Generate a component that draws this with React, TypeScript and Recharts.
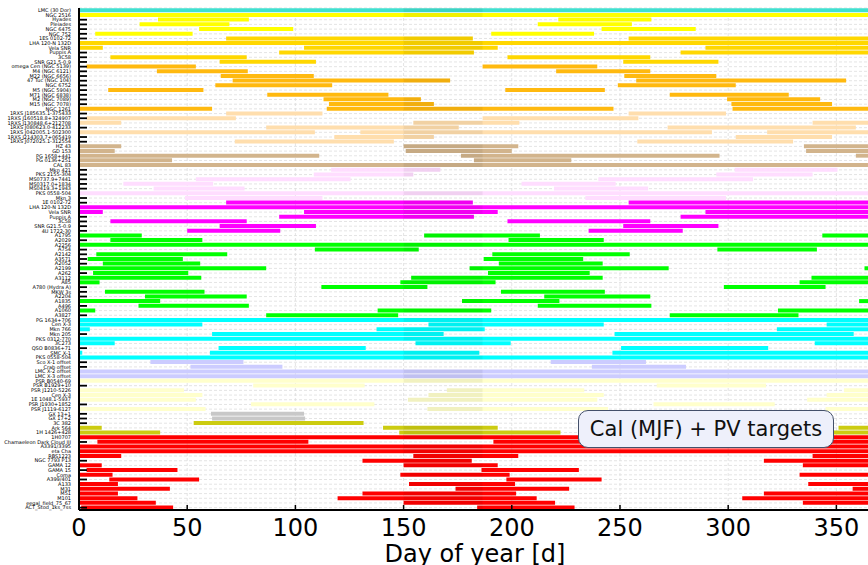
import {
  BarChart,
  Bar,
  XAxis,
  YAxis,
  CartesianGrid,
  Cell,
  Legend,
} from 'recharts';

type Win = [number, number];

const FONT = 'DejaVu Sans';

// visibility windows [start day, end day] per target, grouped by colour
const lmcNames = ['LMC (30 Dor)'];
const lmcWindows: Win[][] = [[[0, 366]]];

const openClusterNames = ['NGC 2516', 'Hyades', 'Pleiades', 'NGC 6475', 'NGC 752'];
const openClusterWindows: Win[][] = [
  [[0, 366]],
  [[36.5, 78.5], [221.5, 264.5]],
  [[28, 69.5], [212, 255.5]],
  [[55.5, 99], [241.5, 285]],
  [[7.5, 52.5], [190.5, 238]],
];

const snrNames = ['1ES 0102-72', 'LHA 120-N 132D', 'Vela SNR', 'Puppis A', '3C58', 'SNR G21.5-0.9'];
const snrWindows: Win[][] = [
  [[68, 182], [254, 366]],
  [[0, 366]],
  [[0, 11], [104, 193.5], [289.5, 366]],
  [[92.5, 182.5], [278, 366]],
  [[14.5, 77.5], [198, 264]],
  [[65, 109.5], [251.5, 295.5]],
];

const globularNames = [
  'omega Cen (NGC 5139)', 'M4 (NGC 6121)', 'M22 (NGC 6656)', '47 Tuc (NGC 104)', 'NGC 6752',
  'M5 (NGC 5904)', 'M71 (NGC 6838)', 'M2 (NGC 7089)', 'M15 (NGC 7078)', 'NGC 1261',
];
const globularWindows: Win[][] = [
  [[3.5, 54], [186.5, 239.5]],
  [[36, 78], [220.5, 264]],
  [[65.5, 108.5], [252, 294.5]],
  [[71, 171.5], [257.5, 354.5]],
  [[63, 117], [249, 303.5]],
  [[13.5, 57.5], [197, 243]],
  [[87, 143], [273, 328]],
  [[113, 158], [299.5, 342.5]],
  [[115.5, 164], [301.5, 348]],
  [[0, 61.5], [114.5, 247], [302, 366]],
];

const insNames = [
  '1RXS J185635.1-375433', '1RXS J160518.8+324907', '1RXS J130848.6+212708',
  '1RXS J080623.0-412233', '1RXS J042005.1-502300', '1RXS J214303.7+065419',
  '1RXS J072025.1-312554',
];
const insWindows: Win[][] = [
  [[68, 112.5], [254, 299]],
  [[3.5, 72.5], [186.5, 258.5]],
  [[0, 19.5], [154.5, 203.5], [339, 366]],
  [[86.5, 175.5], [272, 359]],
  [[0, 109], [130, 292.5], [318, 366]],
  [[118, 164], [303.5, 348]],
  [[72, 145.5], [258, 330]],
];

const wdNames = ['HZ 43', 'GD 153', 'PG 1658+441', 'PG 0136+251', 'CAL 83'];
const wdWindows: Win[][] = [
  [[0, 19.5], [150, 203], [335, 366]],
  [[0, 16.5], [151, 200], [336, 366]],
  [[0, 111], [176.5, 296], [359, 366]],
  [[0, 43], [182.5, 227.5]],
  [[0, 366]],
];

const agnNames = ['Mkn 421', 'PKS 2155-304', 'MS0737.9+7441', 'MS0317.0+1834', 'MS0419.3+1943', 'PKS 0558-504', 'Mkn 3'];
const agnWindows: Win[][] = [
  [[116.5, 167], [303, 350.5]],
  [[108.5, 154.5], [294.5, 339]],
  [[54, 125.5], [240, 311.5]],
  [[20.5, 62], [204.5, 248]],
  [[34.5, 76.5], [219.5, 263]],
  [[0, 366]],
  [[49, 112.5], [234, 299]],
];

const snr2Names = ['1E 0102-72', 'LHA 120-N 132D', 'Vela SNR', 'Puppis A', '3C58', 'SNR G21.5-0.9', '4U 1722-30'];
const snr2Windows: Win[][] = [
  [[68, 182], [254, 366]],
  [[0, 366]],
  [[0, 11], [104, 193.5], [289.5, 366]],
  [[92.5, 182.5], [278, 366]],
  [[14.5, 77.5], [198, 264]],
  [[65, 109.5], [251.5, 295.5]],
  [[50, 93], [235.5, 279]],
];

const clusterNames = [
  'A1795', 'A2029', 'A2256', 'A754', 'A2142', 'A3571', 'A2052', 'A2199', 'A262', 'A3112',
  'A85', 'A780 (Hydra A)', 'MKW 3s', 'A2204', 'A1835', 'A496', 'A1060', 'A3827',
];
const clusterWindows: Win[][] = [
  [[0, 29], [159.5, 213], [343.5, 366]],
  [[14.5, 57], [198.5, 242.5]],
  [[0, 366]],
  [[109, 157], [295, 341]],
  [[8, 68.5], [191, 254.5]],
  [[4, 48], [187, 233]],
  [[11, 56], [194, 242]],
  [[0, 86.5], [180.5, 272.5], [363, 366]],
  [[6.5, 50.5], [189, 236]],
  [[0, 56.5], [153.5, 242], [338.5, 366]],
  [[0, 9.5], [148.5, 192.5], [333, 366]],
  [[112, 161], [298, 345]],
  [[12, 58], [195, 243]],
  [[30.5, 77.5], [215, 264]],
  [[0, 37.5], [177, 222], [360.5, 366]],
  [[27.5, 78.5], [212, 264.5]],
  [[0, 7.5], [138, 190.5], [323, 366]],
  [[86.5, 147.5], [273, 332.5]],
];

const pvNames = [
  'PG 1634+706', 'Cen X-3', 'Mkn 766', 'Mkn 205', 'PKS 0312-770', '3C273', 'QSO B0836+71',
  'SMC X-1', 'PKS 0558-504',
];
const pvWindows: Win[][] = [
  [[0, 366]],
  [[0, 57], [161.5, 242.5], [345.5, 366]],
  [[0, 5], [137.5, 187.5], [322.5, 366]],
  [[61.5, 168.5], [247.5, 358]],
  [[0, 366]],
  [[0, 16.5], [155.5, 199.5], [340, 366]],
  [[64.5, 132.5], [250.5, 318.5]],
  [[0, 1.5], [60.5, 185], [246.5, 366]],
  [[0, 366]],
];

const offsetNames = ['Sco X-1 offset', 'Crab offset', 'LMC X-2 offset', 'LMC X-3 offset'];
const offsetWindows: Win[][] = [
  [[33, 76], [218, 262]],
  [[51.5, 94], [237, 280.5]],
  [[0, 366]],
  [[0, 366]],
];

const psrNames = [
  'PSR B0540-69', 'PSR B1929+10', 'PSR J1210-5226', 'Cen X-3', '1E 1048.1-5937',
  'PSR J1930+1852', 'PSR J1119-6127',
];
const psrWindows: Win[][] = [
  [[0, 366]],
  [[80.5, 132], [267, 317.5]],
  [[0, 48.5], [170, 233.5], [353.5, 366]],
  [[0, 57], [161.5, 242.5], [345.5, 366]],
  [[0, 54], [152, 239.5], [336.5, 366]],
  [[79.5, 136.5], [265.5, 321.5]],
  [[0, 58.5], [161, 244.5], [345, 366]],
];

const gxNames = ['GX 13+1', 'GX 17+2'];
const gxWindows: Win[][] = [[[61, 104]], [[61.5, 104.5]]];

const seyfertNames = ['3C 382', 'Ark 564', '1H 1426+428'];
const seyfertWindows: Win[][] = [
  [[53, 131.5]],
  [[0, 10.5], [140.5, 193.5], [351, 366]],
  [[0, 37.5], [148, 222.5], [345, 366]],
];

const redNames = [
  '1H0707', 'Chamaeleon Dark Cloud III', 'A3391/3395', 'eta Cha', 'RBS1223', 'NGC 7793 P13',
  'GAMA 12', 'GAMA 15', 'Coma', 'A399/401', 'A133', 'M31', 'M51', 'M101',
  'eegal_field_75_67', 'ACT_Stod_1ks_7ss',
];
const redWindows: Win[][] = [
  [[0, 366]],
  [[8.5, 106], [191.5, 366]],
  [[0, 366]],
  [[0, 366]],
  [[0, 19.5], [154.5, 203], [339, 366]],
  [[131, 181.5], [316.5, 366]],
  [[0, 10.5], [150, 193.5], [334.5, 366]],
  [[3.5, 45.5], [186, 231]],
  [[0, 15.5], [148.5, 199], [333, 366]],
  [[14, 55.5], [197.5, 241.5]],
  [[0, 18], [152.5, 201.5], [337, 366]],
  [[0, 42], [174, 226.5], [357.5, 366]],
  [[0, 18], [131, 202], [316.5, 366]],
  [[0, 27], [119.5, 211.5], [306.5, 366]],
  [[0, 35.5], [150, 220], [334.5, 366]],
  [[1, 43.5], [184, 229]],
];

// days covered twice (overlapping schedule halves), drawn darker on the bars
const overlapSpan: Win = [150, 186.5];

const dayTicks = [0, 50, 100, 150, 200, 250, 300, 350];

const groups: {names: string[]; windows: Win[][]; color: string}[] = [
  {names: lmcNames, windows: lmcWindows, color: '#40e0d0'},
  {names: openClusterNames, windows: openClusterWindows, color: '#ffff00'},
  {names: snrNames, windows: snrWindows, color: '#ffd700'},
  {names: globularNames, windows: globularWindows, color: '#ffb90f'},
  {names: insNames, windows: insWindows, color: '#ffdead'},
  {names: wdNames, windows: wdWindows, color: '#d2b48c'},
  {names: agnNames, windows: agnWindows, color: '#ffddff'},
  {names: snr2Names, windows: snr2Windows, color: '#ff00ff'},
  {names: clusterNames, windows: clusterWindows, color: '#00ff00'},
  {names: pvNames, windows: pvWindows, color: '#00ffff'},
  {names: offsetNames, windows: offsetWindows, color: '#ccccff'},
  {names: psrNames, windows: psrWindows, color: '#ffffcc'},
  {names: gxNames, windows: gxWindows, color: '#c8c8c8'},
  {names: seyfertNames, windows: seyfertWindows, color: '#cccc11'},
  {names: redNames, windows: redWindows, color: '#ff0000'},
];

const clipToOverlap = (wins: Win[]): Win | null => {
  for (const [a, b] of wins) {
    const lo = Math.max(a, overlapSpan[0]);
    const hi = Math.min(b, overlapSpan[1]);
    if (hi > lo) return [lo, hi];
  }
  return null;
};

const rows = groups
  .flatMap((g) =>
    g.names.map((name, i) => ({
      name,
      color: g.color,
      startsAtZero: g.windows[i][0][0] === 0,
      w0: g.windows[i][0] ?? null,
      w1: g.windows[i][1] ?? null,
      w2: g.windows[i][2] ?? null,
      dup: clipToOverlap(g.windows[i]),
    })),
  )
  .map((r, k) => ({...r, id: `r${k}`}));

const rowById: Record<string, (typeof rows)[number]> = {};
rows.forEach((r) => {
  rowById[r.id] = r;
});

const PLOT_LEFT = 79;
const PLOT_BOTTOM = 510;

function RowTick(props: any) {
  const {x, y, payload} = props;
  const row = rowById[payload.value];
  return (
    <g>
      {/* inward tick, hidden under bars that start on day 0 */}
      {!row.startsAtZero && (
        <line x1={PLOT_LEFT} x2={PLOT_LEFT + 8} y1={y} y2={y} stroke="#000" strokeWidth={1.8} />
      )}
      <text x={x} y={y} dy="0.35em" textAnchor="end" fontSize={5} fontFamily={FONT} fill="#000">
        {row.name}
      </text>
    </g>
  );
}

function DayTick(props: any) {
  const {x, payload} = props;
  return (
    <g>
      <line x1={x} x2={x} y1={PLOT_BOTTOM} y2={PLOT_BOTTOM - 5} stroke="#000" strokeWidth={1.5} />
      <text x={x} y={536} textAnchor="middle" fontSize={24} fontFamily={FONT} fill="#000">
        {payload.value}
      </text>
    </g>
  );
}

function CalLegend() {
  return (
    <div
      style={{
        boxSizing: 'border-box',
        width: 256,
        height: 38,
        border: '1.5px solid #44506a',
        borderRadius: 10,
        background: '#eef0fb',
        fontFamily: FONT,
        fontSize: 21,
        color: '#111',
        display: 'flex',
        alignItems: 'center',
        justifyContent: 'center',
        whiteSpace: 'nowrap',
      }}
    >
      Cal (MJF) + PV targets
    </div>
  );
}

export default function App() {
  const windowKeys = ['w0', 'w1', 'w2'];
  return (
    <div
      style={{
        position: 'absolute',
        left: 0,
        top: 0,
        width: 868,
        height: 565,
        overflow: 'hidden',
        background: '#fff',
      }}
    >
      <BarChart
        width={880}
        height={565}
        data={rows}
        layout="vertical"
        barCategoryGap="5%"
        margin={{top: 8, right: 9, bottom: 0, left: 0}}
      >
        <CartesianGrid stroke="#dddddd" strokeDasharray="3 2" strokeWidth={0.8} />
        <XAxis
          type="number"
          domain={[0, 366]}
          ticks={dayTicks}
          allowDataOverflow
          height={55}
          tickSize={0}
          tickLine={false}
          tick={<DayTick />}
          axisLine={{stroke: '#000', strokeWidth: 2}}
          label={{
            value: 'Day of year [d]',
            position: 'insideBottom',
            offset: 3,
            fontSize: 24,
            fontFamily: FONT,
            fill: '#000',
          }}
        />
        <XAxis
          xAxisId="top"
          orientation="top"
          type="number"
          domain={[0, 366]}
          height={0}
          tick={false}
          tickLine={false}
          axisLine={{stroke: '#000', strokeWidth: 2}}
        />
        <YAxis
          type="category"
          dataKey="id"
          width={79}
          interval={0}
          tickSize={0}
          tickMargin={8}
          tickLine={false}
          tick={<RowTick />}
          axisLine={{stroke: '#000', strokeWidth: 2}}
        />
        <YAxis yAxisId="w1" type="category" dataKey="id" hide />
        <YAxis yAxisId="w2" type="category" dataKey="id" hide />
        <YAxis yAxisId="dup" type="category" dataKey="id" hide />
        {windowKeys.map((key, i) => (
          <Bar
            key={key}
            dataKey={key}
            yAxisId={i === 0 ? 0 : key}
            isAnimationActive={false}
          >
            {rows.map((r) => (
              <Cell key={r.id} fill={r.color} />
            ))}
          </Bar>
        ))}
        <Bar
          dataKey="dup"
          yAxisId="dup"
          fill="#000"
          fillOpacity={0.055}
          isAnimationActive={false}
        />
        <Legend
          layout="horizontal"
          verticalAlign="middle"
          align="center"
          wrapperStyle={{left: 578, top: 410, width: 256, height: 38}}
          content={<CalLegend />}
        />
      </BarChart>
    </div>
  );
}
